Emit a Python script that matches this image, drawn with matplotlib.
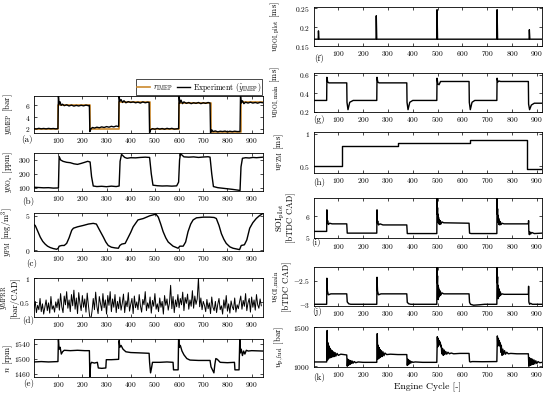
import numpy as np
import matplotlib
matplotlib.use('Agg')
import matplotlib.pyplot as plt
from matplotlib.ticker import FuncFormatter

plt.rcParams['font.family'] = 'cmr10'
plt.rcParams['mathtext.fontset'] = 'cm'
plt.rcParams['axes.formatter.use_mathtext'] = True

# ---------------- data ----------------
# (a) IMEP reference steps: cycle where each level starts, level
imep_ref_cyc = [0, 101, 230, 352, 478, 600, 730, 854, 947]
imep_ref_lvl = [2.0, 6.0, 2.0, 6.5, 2.0, 6.4, 1.5, 6.5, 6.5]
imep_exp = [(0, 2.0), (10, 1.95), (20, 2.05), (30, 1.97), (40, 2.03), (50, 1.96), (60, 2.04),
            (70, 1.98), (80, 2.02), (90, 1.96), (99, 2.0), (101, 7.6), (104, 6.2), (108, 6.6),
            (112, 6.0), (118, 6.2), (125, 5.95), (135, 6.1), (145, 5.9), (155, 6.05), (165, 5.88),
            (175, 6.0), (185, 5.9), (195, 6.02), (205, 5.92), (215, 6.05), (225, 5.95), (229, 6.0),
            (231, 1.5), (236, 2.0), (242, 2.2), (250, 2.1), (260, 2.25), (270, 2.15), (280, 2.3),
            (290, 2.2), (300, 2.35), (310, 2.25), (320, 2.4), (330, 2.3), (340, 2.45), (350, 2.35),
            (352, 7.6), (355, 6.7), (360, 7.0), (366, 6.5), (372, 6.8), (380, 6.45), (390, 6.65),
            (400, 6.5), (410, 6.6), (420, 6.45), (430, 6.55), (440, 6.4), (450, 6.6), (460, 6.45),
            (470, 6.55), (476, 6.5), (478, 1.3), (482, 1.8), (490, 2.0), (500, 1.9), (510, 2.05),
            (520, 1.92), (530, 2.02), (540, 1.9), (550, 2.05), (560, 1.95), (570, 2.05), (580, 1.92),
            (598, 2.0), (600, 7.7), (603, 6.4), (608, 6.9), (614, 6.3), (620, 6.6), (630, 6.35),
            (640, 6.5), (650, 6.3), (660, 6.45), (670, 6.35), (680, 6.5), (690, 6.3), (700, 6.45),
            (710, 6.35), (720, 6.5), (728, 6.4), (730, 1.3), (735, 1.8), (740, 1.5), (750, 1.6),
            (760, 1.45), (770, 1.55), (780, 1.5), (790, 1.58), (800, 1.45), (810, 1.55), (820, 1.48),
            (830, 1.56), (840, 1.5), (852, 1.5), (854, 7.7), (857, 6.4), (862, 6.8), (868, 6.3),
            (875, 6.55), (885, 6.4), (895, 6.55), (905, 6.4), (915, 6.5), (925, 6.38), (935, 6.52),
            (947, 6.45)]

# (b) NOx
nox = [(0, 103), (20, 101), (40, 99), (60, 100), (80, 97), (101, 98), (104, 325), (110, 300),
       (120, 290), (135, 283), (150, 280), (165, 272), (180, 268), (195, 275), (210, 283),
       (222, 290), (232, 285), (238, 180), (245, 112), (260, 108), (280, 110), (300, 107),
       (320, 111), (340, 108), (352, 112), (356, 290), (362, 340), (368, 330), (375, 318),
       (385, 312), (400, 316), (420, 315), (440, 318), (460, 320), (478, 318), (485, 200),
       (492, 118), (510, 114), (530, 112), (550, 113), (570, 111), (590, 113), (598, 140),
       (602, 300), (606, 345), (612, 335), (620, 322), (640, 320), (660, 322), (680, 318),
       (700, 321), (720, 323), (728, 320), (735, 200), (742, 108), (760, 100), (780, 96),
       (800, 92), (820, 88), (840, 83), (852, 80), (856, 250), (862, 312), (875, 316),
       (890, 314), (905, 318), (920, 316), (947, 320)]

# (c) PM
pm = [(0, 3.7), (5, 3.6), (15, 2.8), (26, 1.9), (36, 1.3), (46, 0.9), (56, 0.6), (67, 0.4),
      (80, 0.25), (94, 0.15), (100, 0.3), (104, 0.6), (115, 0.7), (125, 0.7), (135, 1.0),
      (145, 1.8), (156, 2.9), (163, 3.2), (180, 3.4), (204, 3.6), (225, 3.8), (245, 3.9),
      (258, 3.8), (270, 3.0), (287, 1.9), (297, 1.2), (307, 0.7), (320, 0.45), (335, 0.35),
      (349, 0.3), (355, 0.7), (363, 0.9), (377, 1.0), (390, 1.9), (400, 2.6), (410, 3.4),
      (430, 4.4), (452, 4.6), (479, 5.0), (495, 5.15), (504, 5.25), (514, 4.8), (524, 3.8),
      (534, 2.7), (545, 1.8), (555, 1.2), (575, 0.6), (596, 0.3), (603, 0.6), (617, 0.6),
      (627, 1.2), (637, 2.7), (648, 3.8), (658, 4.4), (672, 4.7), (700, 4.8), (727, 4.8),
      (745, 4.75), (754, 4.6), (765, 3.6), (775, 2.4), (785, 1.6), (795, 1.0), (810, 0.5),
      (823, 0.3), (850, 0.1), (857, 0.7), (870, 0.8), (880, 1.5), (892, 3.2), (905, 4.0),
      (919, 4.6), (932, 5.0), (947, 5.35)]

# (d) max pressure rise rate, one value every 5 cycles
mprr_step = 5
mprr = [0.38, 0.52, 0.29, 0.44, 0.35, 0.58, 0.31, 0.47, 0.26, 0.41, 0.55, 0.33, 0.49, 0.28, 0.62,
        0.36, 0.43, 0.30, 0.51, 0.39,
        0.57, 0.34, 0.68, 0.41, 0.29, 0.63, 0.45, 0.72, 0.38, 0.55, 0.31, 0.66, 0.43, 0.75, 0.36,
        0.59, 0.27, 0.70, 0.48, 0.33, 0.64, 0.40, 0.57, 0.30, 0.69, 0.44,
        0.22, 0.15, 0.32,
        0.58, 0.35, 0.71, 0.42, 0.27, 0.62, 0.47, 0.33, 0.68, 0.39, 0.55, 0.26, 0.64, 0.44, 0.72,
        0.31, 0.57, 0.40, 0.66, 0.29, 0.52, 0.37,
        0.61, 0.34, 0.48, 0.67, 0.29, 0.53, 0.41, 0.70, 0.32, 0.46, 0.58, 0.27, 0.63, 0.39, 0.51,
        0.35, 0.66, 0.43, 0.30, 0.56, 0.45, 0.72, 0.33, 0.49, 0.38, 0.61, 0.28, 0.54, 0.42, 0.68,
        0.36, 0.47, 0.31, 0.59, 0.40, 0.52, 0.26, 0.64, 0.44, 0.57, 0.34, 0.48, 0.85, 0.37, 0.62,
        0.29, 0.55, 0.41, 0.66,
        0.39, 0.58, 0.45, 0.71, 0.33, 0.60, 0.48, 0.67, 0.36, 0.55, 0.42, 0.74, 0.38, 0.63, 0.46,
        0.57, 1.00, 0.41, 0.59, 0.35, 0.52,
        0.44, 0.31, 0.56, 0.37, 0.49, 0.27, 0.61, 0.40, 0.33, 0.52, 0.29, 0.46, 0.58, 0.35, 0.43,
        0.26, 0.55, 0.38, 0.64, 0.32, 0.47, 0.28, 0.53, 0.41, 0.35, 0.59, 0.30, 0.45, 0.37, 0.51,
        0.63, 0.36, 0.54, 0.42, 0.68, 0.33, 0.49, 0.58, 0.30, 0.61, 0.40, 0.55, 0.34, 0.66, 0.45,
        0.38, 0.57, 0.43]

# (e) engine speed
speed = [(0, 1491), (30, 1492), (60, 1491), (99, 1492), (101, 1550), (104, 1525), (108, 1530),
         (113, 1512), (118, 1518), (125, 1522), (150, 1521), (180, 1522), (210, 1521), (229, 1521),
         (231, 1451), (234, 1485), (238, 1490), (250, 1488), (262, 1490), (266, 1475), (280, 1474),
         (297, 1475), (299, 1497), (320, 1497), (350, 1498), (352, 1548), (355, 1530), (360, 1535),
         (368, 1525), (380, 1518), (400, 1516), (440, 1515), (476, 1514), (478, 1490), (482, 1462),
         (486, 1475), (490, 1490), (520, 1490), (550, 1491), (575, 1490), (577, 1470), (590, 1470),
         (596, 1470), (598, 1555), (601, 1530), (605, 1535), (612, 1520), (620, 1510), (632, 1500),
         (645, 1496), (680, 1495), (728, 1495), (732, 1478), (738, 1470), (744, 1462), (748, 1485),
         (752, 1500), (758, 1498), (770, 1490), (800, 1489), (829, 1490), (831, 1470), (848, 1470),
         (851, 1552), (853, 1515), (857, 1525), (862, 1508), (867, 1520), (872, 1512), (878, 1522),
         (886, 1520), (900, 1521), (947, 1520)]

# (f) pilot DOI
doi_pilot = [(0, 0.168), (19, 0.168), (20, 0.19), (22, 0.168), (252, 0.168), (253, 0.23),
             (255, 0.168), (497, 0.168), (498, 0.246), (500, 0.168), (739, 0.168), (740, 0.246),
             (742, 0.168), (869, 0.168), (870, 0.193), (872, 0.168), (921, 0.168)]

# (g) main DOI
doi_main = [(0, 0.32), (53, 0.32), (54, 0.57), (57, 0.52), (62, 0.51), (134, 0.51), (135, 0.30),
            (139, 0.22), (146, 0.30), (160, 0.32), (255, 0.32), (256, 0.57), (259, 0.52),
            (264, 0.51), (376, 0.51), (377, 0.30), (381, 0.22), (388, 0.30), (400, 0.32),
            (497, 0.32), (498, 0.56), (501, 0.50), (506, 0.49), (512, 0.525), (627, 0.525),
            (628, 0.30), (632, 0.22), (639, 0.30), (650, 0.32), (739, 0.32), (740, 0.56),
            (743, 0.52), (748, 0.53), (754, 0.525), (866, 0.525), (867, 0.28), (871, 0.22),
            (878, 0.27), (890, 0.29), (921, 0.29)]

# (h) PZM steps
pzm_cyc = [0, 114, 342, 631, 860, 921]
pzm_lvl = [0.5, 0.81, 0.86, 0.91, 0.465, 0.465]

# (i) pilot SOI
soi_pilot = [(0, 5.3), (53, 5.3), (54, 6.3), (55, 5.7), (57, 5.8), (60, 5.62), (65, 5.68),
             (75, 5.65), (134, 5.65), (136, 5.22), (140, 5.22), (255, 5.22), (256, 6.3),
             (257, 5.7), (259, 5.78), (262, 5.6), (268, 5.65), (280, 5.6), (376, 5.6), (378, 5.2),
             (382, 5.2), (497, 5.2), (498, 6.9), (499, 6.1), (500, 6.4), (501, 5.8), (502, 6.1),
             (503, 5.7), (504, 5.95), (505, 5.65), (507, 5.85), (509, 5.62), (511, 5.8),
             (514, 5.65), (518, 5.74), (525, 5.7), (627, 5.68), (629, 5.22), (635, 5.2),
             (739, 5.2), (740, 6.9), (741, 6.1), (742, 6.35), (743, 5.75), (744, 6.05),
             (745, 5.7), (746, 5.92), (747, 5.62), (749, 5.82), (751, 5.6), (753, 5.75),
             (756, 5.62), (760, 5.68), (768, 5.65), (866, 5.65), (867, 5.8), (868, 5.3),
             (870, 5.15), (872, 5.28), (875, 5.18), (880, 5.25), (890, 5.2), (921, 5.22)]

# (j) main SOI
soi_main = [(0, -3.0), (53, -3.0), (54, -2.45), (56, -2.72), (60, -2.8), (70, -2.78),
            (134, -2.78), (136, -2.95), (142, -2.99), (150, -3.0), (255, -3.0), (256, -2.43),
            (258, -2.72), (262, -2.8), (272, -2.78), (376, -2.78), (378, -2.96), (384, -2.99),
            (392, -3.0), (497, -3.0), (498, -2.15), (499, -2.55), (500, -2.4), (501, -2.85),
            (502, -2.6), (503, -2.9), (504, -2.65), (505, -2.85), (507, -2.7), (509, -2.82),
            (511, -2.72), (514, -2.8), (518, -2.76), (525, -2.78), (627, -2.78), (629, -2.96),
            (633, -3.0), (645, -3.02), (670, -3.01), (690, -3.0), (739, -3.0), (740, -2.15),
            (741, -2.55), (742, -2.42), (743, -2.88), (744, -2.6), (745, -2.88), (746, -2.66),
            (747, -2.84), (749, -2.7), (751, -2.82), (753, -2.74), (756, -2.8), (760, -2.78),
            (768, -2.79), (866, -2.79), (867, -2.62), (868, -2.95), (871, -3.0), (875, -2.98),
            (882, -3.0), (921, -3.0)]

# (k) fuel rail pressure
p_fuel = [(0, 1055), (53, 1055), (55, 1460), (57, 1080), (59, 1300), (61, 1100), (63, 1260),
          (65, 1110), (67, 1230), (69, 1110), (71, 1210), (73, 1120), (75, 1200), (78, 1120),
          (81, 1185), (84, 1125), (87, 1175), (90, 1130), (95, 1165), (100, 1140), (110, 1155),
          (134, 1145), (136, 1000), (138, 1090), (140, 1010), (142, 1080), (144, 1020),
          (146, 1075), (148, 1025), (151, 1070), (154, 1035), (157, 1065), (160, 1040),
          (165, 1060), (170, 1045), (180, 1055), (200, 1050), (255, 1050), (257, 1420),
          (259, 1090), (261, 1270), (263, 1100), (265, 1240), (267, 1110), (269, 1215),
          (271, 1120), (274, 1200), (277, 1125), (280, 1185), (284, 1135), (288, 1170),
          (295, 1150), (310, 1155), (340, 1150), (376, 1150), (378, 1010), (380, 1090),
          (382, 1020), (384, 1080), (386, 1030), (389, 1070), (392, 1040), (396, 1060),
          (400, 1050), (410, 1055), (440, 1050), (497, 1050), (499, 1380), (501, 1250),
          (503, 1360), (505, 1270), (507, 1330), (509, 1280), (511, 1310), (513, 1250),
          (515, 1270), (517, 1160), (520, 1230), (523, 1140), (526, 1210), (529, 1150),
          (533, 1190), (537, 1155), (542, 1180), (548, 1160), (555, 1170), (565, 1160),
          (590, 1165), (627, 1165), (629, 1060), (632, 1055), (640, 1060), (680, 1058),
          (739, 1060), (741, 1390), (743, 1260), (745, 1360), (747, 1280), (749, 1330),
          (751, 1260), (753, 1300), (755, 1180), (757, 1270), (760, 1140), (763, 1220),
          (766, 1150), (770, 1200), (774, 1155), (779, 1180), (785, 1160), (795, 1165),
          (820, 1160), (866, 1160), (868, 1000), (870, 1110), (872, 1010), (874, 1100),
          (876, 1015), (878, 1095), (880, 1020), (883, 1090), (886, 1025), (889, 1080),
          (892, 1030), (896, 1070), (900, 1035), (905, 1060), (912, 1045), (921, 1050)]

cycle_ticks = [100, 200, 300, 400, 500, 600, 700, 800, 900]
ref_color = '#CC8A2E'

# ---------------- figure ----------------
W, H = 550, 393
fig = plt.figure(figsize=(W / 100, H / 100), dpi=100)


def add_ax(x0, x1, top, bot):
    return fig.add_axes([x0 / W, 1 - bot / H, (x1 - x0) / W, (bot - top) / H])


fmt = FuncFormatter(lambda v, p: '$%g$' % v)


def style(ax, xmax, ylim, yticks, ylabel, lab_x, tag, tag_xy):
    ax.set_xlim(0, xmax)
    ax.set_ylim(*ylim)
    ax.set_xticks(cycle_ticks)
    ax.set_yticks(yticks)
    ax.xaxis.set_major_formatter(fmt)
    ax.yaxis.set_major_formatter(fmt)
    ax.tick_params(direction='in', top=True, right=True, length=2.5, width=0.5,
                   labelsize=5.4, pad=2.5)
    for s in ax.spines.values():
        s.set_linewidth(0.6)
    ax.set_ylabel(ylabel, fontsize=6.2, linespacing=1.0)
    ax.yaxis.set_label_coords(lab_x, 0.5)
    ax.text(tag_xy[0], tag_xy[1], tag, transform=ax.transAxes, fontsize=6.5,
            ha='center', va='center')


def line(ax, pts, **kw):
    xy = np.array(pts, dtype=float)
    ax.plot(xy[:, 0], xy[:, 1], color='black', lw=1.0, **kw)


LX0, LX1 = 34, 263
RX0, RX1 = 313.5, 542

# left column
ax_a = add_ax(LX0, LX1, 95.5, 133)
ax_a.plot(imep_ref_cyc, imep_ref_lvl, drawstyle='steps-post', color=ref_color, lw=1.2,
          label=r'$r_{\rm IMEP}$')
line(ax_a, imep_exp, label=r'Experiment ($\hat{y}_{\rm IMEP}$)')
style(ax_a, 947, (1.25, 7.7), [2, 4, 6], r'$y_{\rm IMEP}$ [bar]', -0.085, '(a)', (-0.03, -0.17))
leg = ax_a.legend(loc='lower right', bbox_to_anchor=(1.0, 1.0), ncol=2, fontsize=5.6,
                  frameon=True, fancybox=False, edgecolor='black', borderpad=0.15,
                  handlelength=1.6, handletextpad=0.4, columnspacing=0.6, borderaxespad=0.1,
                  framealpha=1)
leg.get_frame().set_linewidth(0.5)

ax_b = add_ax(LX0, LX1, 153, 191)
line(ax_b, nox)
style(ax_b, 947, (76, 350), [100, 200, 300], r'$y_{\rm NO_x}$ [ppm]', -0.085, '(b)', (-0.025, -0.28))

ax_c = add_ax(LX0, LX1, 213, 251)
line(ax_c, pm)
style(ax_c, 947, (-0.1, 5.4), [0, 5], r'$y_{\rm PM}$ [mg/m$^3$]', -0.085, '(c)', (-0.01, -0.32))

ax_d = add_ax(LX0, LX1, 278, 317)
ax_d.plot(np.arange(len(mprr)) * mprr_step, mprr, color='black', lw=0.7)
style(ax_d, 947, (0.2, 1.0), [0.5, 1], '$y_{\\rm MPRR}$\n[bar/CAD]', -0.065, '(d)', (-0.025, -0.08))

ax_e = add_ax(LX0, LX1, 339, 377)
line(ax_e, speed)
style(ax_e, 947, (1451, 1552), [1460, 1500, 1540], r'$n$ [rpm]', -0.085, '(e)', (-0.025, -0.18))

# right column
ax_f = add_ax(RX0, RX1, 6.7, 46)
line(ax_f, doi_pilot)
style(ax_f, 921, (0.15, 0.254), [0.15, 0.2, 0.25], r'$u_{\rm DOI,pilot}$ [ms]', -0.14, '(f)', (0.025, -0.33))

ax_g = add_ax(RX0, RX1, 72.7, 112)
line(ax_g, doi_main)
style(ax_g, 921, (0.195, 0.62), [0.2, 0.4, 0.6], r'$u_{\rm DOI,main}$ [ms]', -0.14, '(g)', (0.025, -0.2))

ax_h = add_ax(RX0, RX1, 132, 173)
ax_h.plot(pzm_cyc, pzm_lvl, drawstyle='steps-post', color='black', lw=1.0)
style(ax_h, 921, (0.40, 1.03), [0.5, 1], r'$u_{\rm PZM}$ [ms]', -0.12, '(h)', (0.025, -0.24))

ax_i = add_ax(RX0, RX1, 198, 238.3)
line(ax_i, soi_pilot)
style(ax_i, 921, (4.98, 6.85), [5, 6], 'SOI$_{\\rm pilot}$\n[bTDC CAD]', -0.075, '(i)', (0.01, -0.1))

ax_j = add_ax(RX0, RX1, 267.3, 305.7)
line(ax_j, soi_main)
style(ax_j, 921, (-3.03, -2.22), [-3, -2.5], '$u_{\\rm SOI,main}$\n[bTDC CAD]', -0.095, '(j)', (0.015, -0.16))

ax_k = add_ax(RX0, RX1, 327, 367)
line(ax_k, p_fuel)
style(ax_k, 921, (990, 1505), [1000, 1500], r'$u_{\rm p,fuel}$ [bar]', -0.12, '(k)', (0.025, -0.25))
ax_k.set_xlabel('Engine Cycle [-]', fontsize=7, labelpad=2)

fig.savefig('out.png', dpi=100)
